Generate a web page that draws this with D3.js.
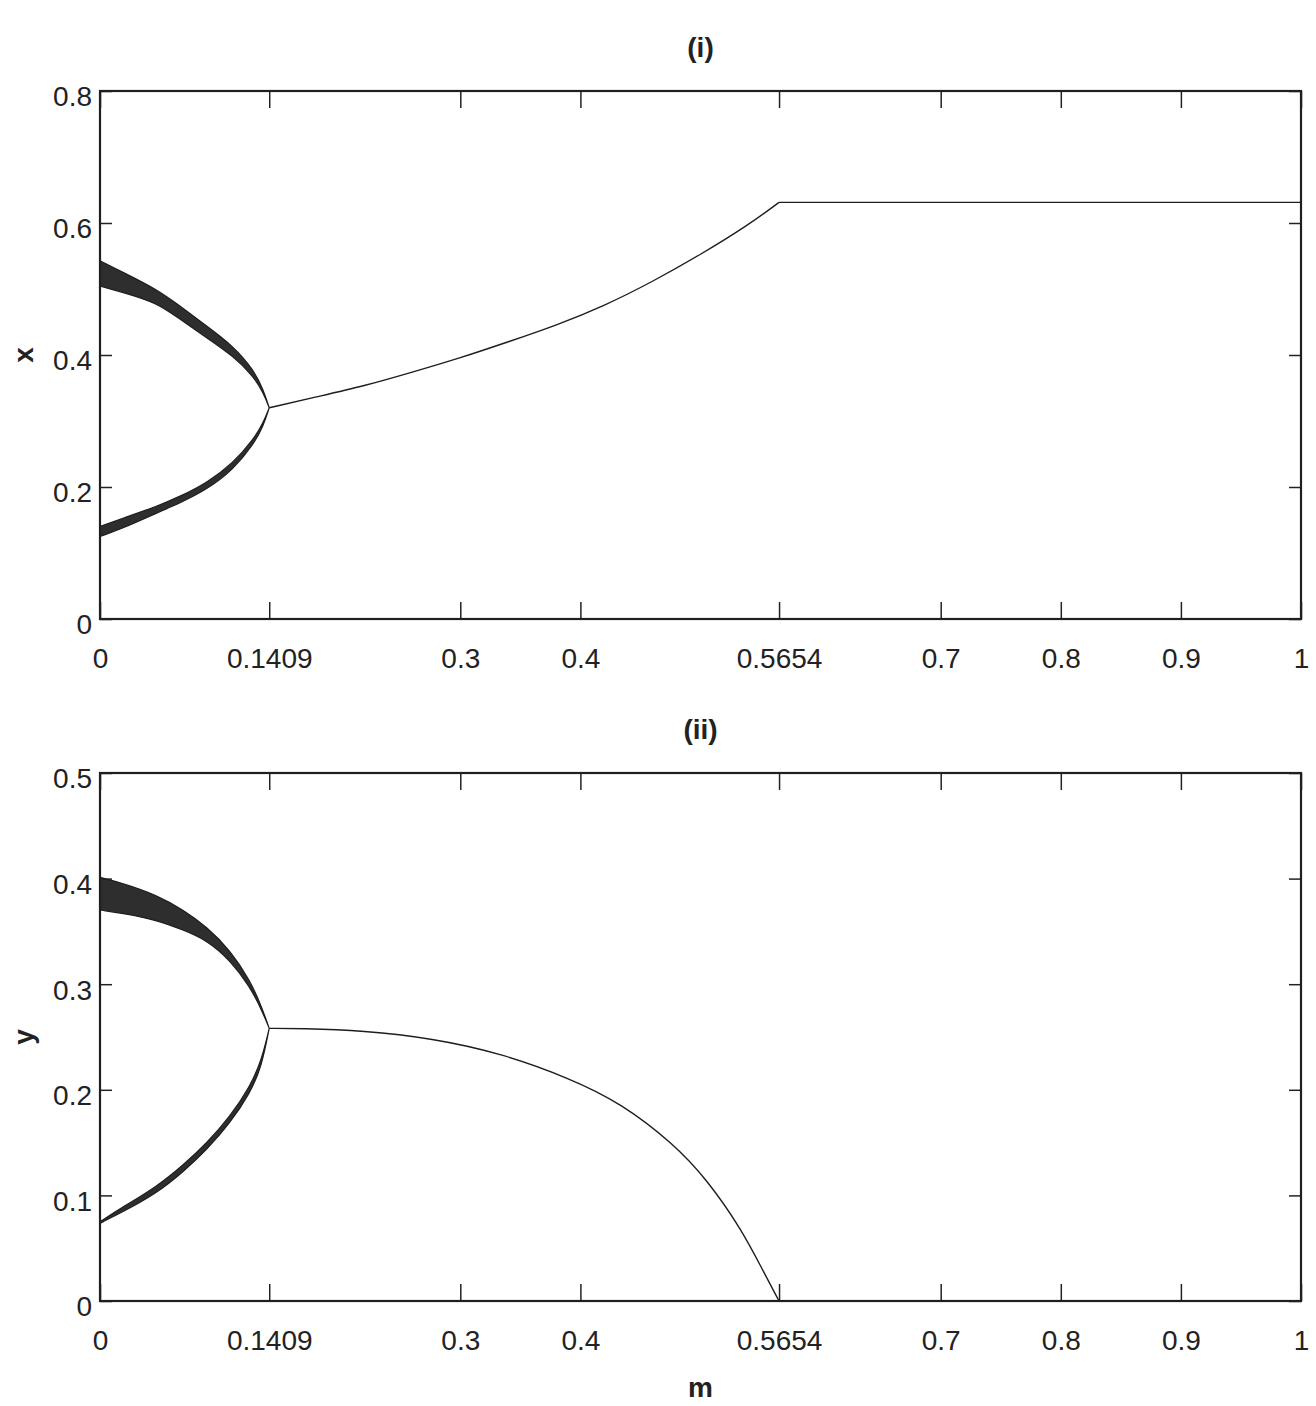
<!DOCTYPE html>
<html>
<head>
<meta charset="utf-8">
<script src="https://cdn.jsdelivr.net/npm/d3@7"></script>
<style>
  body { margin: 0; background: #fff; }
  text { font-family: "Liberation Sans", Arial, sans-serif; fill: #222; }
</style>
</head>
<body>
<div id="chart"></div>
<script>

// tick values
var mTicks = [0, 0.1409, 0.3, 0.4, 0.5654, 0.7, 0.8, 0.9, 1];
var xTicks = [0, 0.2, 0.4, 0.6, 0.8];
var yTicks = [0, 0.1, 0.2, 0.3, 0.4, 0.5];

// panel (i): chaotic bands of x before m = 0.1409 (upper / lower edges)
var bandM = [0, 0.0194, 0.0472, 0.0666, 0.0888, 0.111, 0.1277, 0.136, 0.1409];
var xUpperHi = [0.5426, 0.525, 0.4996, 0.4743, 0.4439, 0.4135, 0.3781, 0.3478, 0.32];
var xUpperLo = [0.5046, 0.4946, 0.4794, 0.454, 0.4263, 0.3983, 0.368, 0.3427, 0.32];
var xLowerHi = [0.1402, 0.1529, 0.1705, 0.1857, 0.2061, 0.2364, 0.2718, 0.2972, 0.32];
var xLowerLo = [0.125, 0.1377, 0.1605, 0.1757, 0.1959, 0.2263, 0.2642, 0.292, 0.32];

// panel (i): single branch after m = 0.1409
var curveM = [0.1409, 0.18, 0.22, 0.26, 0.30, 0.34, 0.38, 0.42, 0.46, 0.50, 0.54, 0.5654];
var xCurve = [0.32, 0.3365, 0.353, 0.374, 0.3955, 0.42, 0.445, 0.4745, 0.511, 0.552, 0.597, 0.6313];
var flatM = [0.5654, 1];
var xFlat = [0.6313, 0.6313];

// panel (ii): chaotic bands of y
var bandM2 = [0, 0.0194, 0.0472, 0.0694, 0.0888, 0.1082, 0.1249, 0.1346, 0.1409];
var yUpperHi = [0.4012, 0.3955, 0.3845, 0.3703, 0.3545, 0.3324, 0.304, 0.2787, 0.2582];
var yUpperLo = [0.3703, 0.3671, 0.3608, 0.3513, 0.3419, 0.3229, 0.2976, 0.2756, 0.2582];
var yLowerHi = [0.0751, 0.0893, 0.1082, 0.1288, 0.1493, 0.1745, 0.2029, 0.2282, 0.2582];
var yLowerLo = [0.0736, 0.0846, 0.102, 0.1224, 0.143, 0.1683, 0.1967, 0.2219, 0.2582];

// panel (ii): single branch
var curveM2 = [0.1409, 0.1676, 0.2193, 0.2765, 0.3339, 0.3912, 0.4341, 0.4772, 0.5058, 0.5345, 0.5517, 0.5654];
var yCurve = [0.2582, 0.2582, 0.256, 0.2488, 0.2346, 0.2109, 0.1872, 0.1493, 0.1146, 0.0672, 0.0294, 0];
var yFlat = [0, 0];

var W = 1316, H = 1406;
var left = 100, right = 1301;

var svg = d3.select("#chart").append("svg")
  .attr("width", W).attr("height", H);

function zip(a, b) { return a.map(function(d, i) { return [d, b[i]]; }); }

function panel(opt) {
  var x = d3.scaleLinear().domain([0, 1]).range([left, right]);
  var y = d3.scaleLinear().domain(opt.domain).range([opt.bottom, opt.top]);
  var g = svg.append("g");

  // bands
  var area = d3.area()
    .x(function(d) { return x(d[0]); })
    .y0(function(d) { return y(d[1]); })
    .y1(function(d) { return y(d[2]); })
    .curve(d3.curveBasis);
  opt.bands.forEach(function(b) {
    var rows = b.m.map(function(m, i) { return [m, b.lo[i], b.hi[i]]; });
    g.append("path").datum(rows)
      .attr("d", area)
      .attr("fill", "#2e2e2e")
      .attr("stroke", "#1e1e1e")
      .attr("stroke-width", 1.2);
  });

  // branch + flat part
  var line = d3.line()
    .x(function(d) { return x(d[0]); })
    .y(function(d) { return y(d[1]); })
    .curve(d3.curveBasis);
  g.append("path").datum(zip(opt.curveM, opt.curve))
    .attr("d", line).attr("fill", "none")
    .attr("stroke", "#1e1e1e").attr("stroke-width", 1.4);
  g.append("path").datum(zip(flatM, opt.flat))
    .attr("d", line).attr("fill", "none")
    .attr("stroke", "#1e1e1e").attr("stroke-width", 1.4);

  // axes, ticks pointing inwards on all four sides
  g.append("g").attr("transform", "translate(0," + opt.bottom + ")")
    .call(d3.axisBottom(x).tickValues(mTicks).tickSize(-17).tickPadding(29)
      .tickFormat(function(d) { return String(d); }));
  g.append("g").attr("transform", "translate(0," + opt.top + ")")
    .call(d3.axisTop(x).tickValues(mTicks).tickSize(-17).tickFormat(""));
  var ay = g.append("g").attr("transform", "translate(" + left + ",0)")
    .call(d3.axisLeft(y).tickValues(opt.ticks).tickSize(-12).tickPadding(8)
      .tickFormat(function(d) { return String(d); }));
  g.append("g").attr("transform", "translate(" + right + ",0)")
    .call(d3.axisRight(y).tickValues(opt.ticks).tickSize(-12).tickFormat(""));

  g.selectAll(".domain").remove();
  g.selectAll(".tick line").attr("stroke", "#222").attr("stroke-width", 1.5);
  g.selectAll(".tick text").attr("font-size", 28).attr("fill", "#222")
    .attr("font-family", "'Liberation Sans', Arial, sans-serif");
  ay.selectAll(".tick text").attr("dy", "0.53em");

  // frame
  g.append("rect")
    .attr("x", left).attr("y", opt.top)
    .attr("width", right - left).attr("height", opt.bottom - opt.top)
    .attr("fill", "none").attr("stroke", "#1f1f1f").attr("stroke-width", 2.2);

  // title and y label
  g.append("text").attr("x", (left + right) / 2).attr("y", opt.top - 34)
    .attr("text-anchor", "middle").attr("font-size", 28).attr("font-weight", "bold")
    .text(opt.title);
  g.append("text")
    .attr("transform", "translate(33," + (opt.top + opt.bottom) / 2 + ") rotate(-90)")
    .attr("text-anchor", "middle").attr("font-size", 28).attr("font-weight", "bold")
    .text(opt.label);
}

panel({
  top: 91, bottom: 619, domain: [0, 0.8], ticks: xTicks,
  title: "(i)", label: "x",
  bands: [
    {m: bandM, hi: xUpperHi, lo: xUpperLo},
    {m: bandM, hi: xLowerHi, lo: xLowerLo}
  ],
  curveM: curveM, curve: xCurve, flat: xFlat
});

panel({
  top: 773, bottom: 1301, domain: [0, 0.5], ticks: yTicks,
  title: "(ii)", label: "y",
  bands: [
    {m: bandM2, hi: yUpperHi, lo: yUpperLo},
    {m: bandM2, hi: yLowerHi, lo: yLowerLo}
  ],
  curveM: curveM2, curve: yCurve, flat: yFlat
});

// x axis label
svg.append("text").attr("x", (left + right) / 2).attr("y", 1397)
  .attr("text-anchor", "middle").attr("font-size", 28).attr("font-weight", "bold")
  .text("m");

</script>
</body>
</html>
